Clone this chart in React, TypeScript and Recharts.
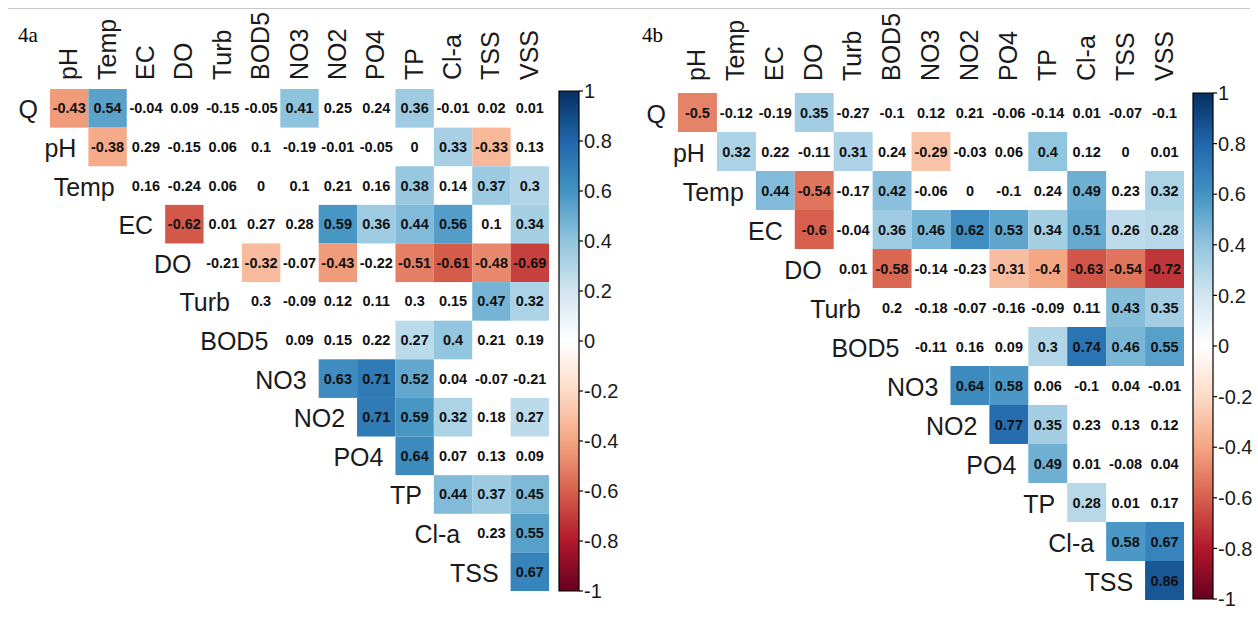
import React from "react";
import {
  ScatterChart,
  Scatter,
  XAxis,
  YAxis,
  BarChart,
  Bar,
} from "recharts";

// variables in the order of the matrix
const ROW_VARS = ["Q", "pH", "Temp", "EC", "DO", "Turb", "BOD5", "NO3", "NO2", "PO4", "TP", "Cl-a", "TSS"];
const COL_VARS = ["pH", "Temp", "EC", "DO", "Turb", "BOD5", "NO3", "NO2", "PO4", "TP", "Cl-a", "TSS", "VSS"];
const BAR_TICKS = [-1, -0.8, -0.6, -0.4, -0.2, 0, 0.2, 0.4, 0.6, 0.8, 1];

// RdBu palette (corrplot), from -1 to 1
const PALETTE = ["#67001F", "#B2182B", "#D6604D", "#F4A582", "#FDDBC7", "#FFFFFF", "#D1E5F0", "#92C5DE", "#4393C3", "#2166AC", "#053061"];

// 4a: each row starts at the column right after its own variable
const A_VALUES = [
  [-0.43, 0.54, -0.04, 0.09, -0.15, -0.05, 0.41, 0.25, 0.24, 0.36, -0.01, 0.02, 0.01],
  [-0.38, 0.29, -0.15, 0.06, 0.1, -0.19, -0.01, -0.05, 0, 0.33, -0.33, 0.13],
  [0.16, -0.24, 0.06, 0, 0.1, 0.21, 0.16, 0.38, 0.14, 0.37, 0.3],
  [-0.62, 0.01, 0.27, 0.28, 0.59, 0.36, 0.44, 0.56, 0.1, 0.34],
  [-0.21, -0.32, -0.07, -0.43, -0.22, -0.51, -0.61, -0.48, -0.69],
  [0.3, -0.09, 0.12, 0.11, 0.3, 0.15, 0.47, 0.32],
  [0.09, 0.15, 0.22, 0.27, 0.4, 0.21, 0.19],
  [0.63, 0.71, 0.52, 0.04, -0.07, -0.21],
  [0.71, 0.59, 0.32, 0.18, 0.27],
  [0.64, 0.07, 0.13, 0.09],
  [0.44, 0.37, 0.45],
  [0.23, 0.55],
  [0.67],
];
// 1 = significant (coloured), 0 = blank
const A_SIG = [
  [1, 1, 0, 0, 0, 0, 1, 0, 0, 1, 0, 0, 0],
  [1, 0, 0, 0, 0, 0, 0, 0, 0, 1, 1, 0],
  [0, 0, 0, 0, 0, 0, 0, 1, 0, 1, 1],
  [1, 0, 0, 0, 1, 1, 1, 1, 0, 1],
  [0, 1, 0, 1, 0, 1, 1, 1, 1],
  [0, 0, 0, 0, 0, 0, 1, 1],
  [0, 0, 0, 1, 1, 0, 0],
  [1, 1, 1, 0, 0, 0],
  [1, 1, 1, 0, 1],
  [1, 0, 0, 0],
  [1, 1, 1],
  [0, 1],
  [1],
];

// 4b
const B_VALUES = [
  [-0.5, -0.12, -0.19, 0.35, -0.27, -0.1, 0.12, 0.21, -0.06, -0.14, 0.01, -0.07, -0.1],
  [0.32, 0.22, -0.11, 0.31, 0.24, -0.29, -0.03, 0.06, 0.4, 0.12, 0, 0.01],
  [0.44, -0.54, -0.17, 0.42, -0.06, 0, -0.1, 0.24, 0.49, 0.23, 0.32],
  [-0.6, -0.04, 0.36, 0.46, 0.62, 0.53, 0.34, 0.51, 0.26, 0.28],
  [0.01, -0.58, -0.14, -0.23, -0.31, -0.4, -0.63, -0.54, -0.72],
  [0.2, -0.18, -0.07, -0.16, -0.09, 0.11, 0.43, 0.35],
  [-0.11, 0.16, 0.09, 0.3, 0.74, 0.46, 0.55],
  [0.64, 0.58, 0.06, -0.1, 0.04, -0.01],
  [0.77, 0.35, 0.23, 0.13, 0.12],
  [0.49, 0.01, -0.08, 0.04],
  [0.28, 0.01, 0.17],
  [0.58, 0.67],
  [0.86],
];
const B_SIG = [
  [1, 0, 0, 1, 0, 0, 0, 0, 0, 0, 0, 0, 0],
  [1, 0, 0, 1, 0, 1, 0, 0, 1, 0, 0, 0],
  [1, 1, 0, 1, 0, 0, 0, 0, 1, 0, 1],
  [1, 0, 1, 1, 1, 1, 1, 1, 1, 1],
  [0, 1, 0, 0, 1, 1, 1, 1, 1],
  [0, 0, 0, 0, 0, 0, 1, 1],
  [0, 0, 0, 1, 1, 1, 1],
  [1, 1, 0, 0, 0, 0],
  [1, 1, 0, 0, 0],
  [1, 0, 0, 0],
  [1, 0, 0],
  [1, 1],
  [1],
];

const N = COL_VARS.length;
const SANS = "'Liberation Sans', Arial, sans-serif";

const hexToRgb = (h: string) => [1, 3, 5].map((i) => parseInt(h.slice(i, i + 2), 16));

const corrColor = (v: number) => {
  const t = ((v + 1) / 2) * (PALETTE.length - 1);
  const i = Math.min(Math.floor(t), PALETTE.length - 2);
  const f = t - i;
  const a = hexToRgb(PALETTE[i]);
  const b = hexToRgb(PALETTE[i + 1]);
  const c = a.map((x, k) => Math.round(x + (b[k] - x) * f));
  return `rgb(${c[0]},${c[1]},${c[2]})`;
};

const toCells = (values: number[][], sig: number[][]) =>
  values.flatMap((row, r) =>
    row.map((v, k) => ({ x: r + k + 0.5, y: r + 0.5, v, sig: sig[r][k] }))
  );

const rowLabelData = ROW_VARS.map((name, r) => ({ x: r, y: r + 0.5, name }));

type PanelProps = {
  left: number;
  width: number;
  plot: { x0: number; x1: number; y0: number; y1: number };
  values: number[][];
  sig: number[][];
  labelGap: number;
};

const CorrPanel: React.FC<PanelProps> = ({ left, width, plot, values, sig, labelGap }) => {
  const height = 623;
  const axisH = 30;
  const cellW = (plot.x1 - plot.x0) / N;
  const cellH = (plot.y1 - plot.y0) / N;
  const cells = toCells(values, sig);

  const renderCell = (p: any) => {
    const { cx, cy, payload } = p;
    return (
      <g>
        {payload.sig ? (
          <rect x={cx - cellW / 2} y={cy - cellH / 2} width={cellW} height={cellH} fill={corrColor(payload.v)} />
        ) : null}
        <text
          x={cx}
          y={cy}
          textAnchor="middle"
          dominantBaseline="central"
          fontFamily={SANS}
          fontWeight="bold"
          fontSize={14.5}
          fill="#111"
        >
          {String(payload.v)}
        </text>
      </g>
    );
  };

  const renderRowLabel = (p: any) => (
    <text
      x={p.cx - 12}
      y={p.cy + 1}
      textAnchor="end"
      dominantBaseline="central"
      fontFamily={SANS}
      fontSize={25}
      fill="#1a1a1a"
    >
      {p.payload.name}
    </text>
  );

  const ColTick = (p: any) => {
    const { x, y, payload } = p;
    return (
      <text
        x={x + 8}
        y={y}
        transform={`rotate(-90 ${x + 8} ${y})`}
        textAnchor="start"
        fontFamily={SANS}
        fontSize={25}
        fill="#1a1a1a"
      >
        {COL_VARS[Math.floor(payload.value)]}
      </text>
    );
  };

  return (
    <div style={{ position: "absolute", left, top: 0 }}>
      <ScatterChart
        width={width}
        height={height}
        margin={{
          left: plot.x0 - left,
          right: left + width - plot.x1,
          top: plot.y0 - axisH,
          bottom: height - plot.y1,
        }}
      >
        <XAxis
          type="number"
          dataKey="x"
          orientation="top"
          domain={[0, N]}
          ticks={COL_VARS.map((_, i) => i + 0.5)}
          height={axisH}
          axisLine={false}
          tickLine={false}
          tickSize={0}
          tickMargin={labelGap}
          interval={0}
          tick={<ColTick />}
        />
        <YAxis type="number" dataKey="y" domain={[0, N]} reversed hide />
        <Scatter data={cells} shape={renderCell} isAnimationActive={false} />
        <Scatter data={rowLabelData} shape={renderRowLabel} isAnimationActive={false} />
      </ScatterChart>
    </div>
  );
};

type BarProps = { id: string; x0: number; y0: number; y1: number };

const ColorBar: React.FC<BarProps> = ({ id, x0, y0, y1 }) => {
  const left = x0 - 10;
  const width = 100;
  const barW = 20;
  const axisW = width - 10 - barW;
  return (
    <div style={{ position: "absolute", left, top: 0 }}>
      <BarChart
        width={width}
        height={623}
        data={[{ k: "bar", r: [-1, 1] }]}
        margin={{ left: 10, right: 0, top: y0, bottom: 623 - y1 }}
        barCategoryGap={0}
      >
        <defs>
          <linearGradient id={id} x1="0" y1="0" x2="0" y2="1">
            {PALETTE.slice()
              .reverse()
              .map((c, i) => (
                <stop key={i} offset={`${i * 10}%`} stopColor={c} />
              ))}
          </linearGradient>
        </defs>
        <XAxis dataKey="k" hide />
        <YAxis
          orientation="right"
          type="number"
          domain={[-1, 1]}
          ticks={BAR_TICKS}
          interval={0}
          width={axisW}
          axisLine={false}
          tickLine={{ stroke: "#000", strokeWidth: 1.2 }}
          tickSize={4}
          tickMargin={1}
          tick={{ fontSize: 20, fontFamily: SANS, fill: "#1a1a1a" }}
          tickFormatter={(v: number) => String(v)}
        />
        <Bar dataKey="r" fill={`url(#${id})`} stroke="#000" strokeWidth={1.2} isAnimationActive={false} />
      </BarChart>
    </div>
  );
};

export default function App() {
  return (
    <div
      style={{
        position: "absolute",
        left: 0,
        top: 0,
        width: 1258,
        height: 623,
        background: "#fff",
        overflow: "hidden",
      }}
    >
      <div style={{ position: "absolute", left: 8, top: 8, width: 1242, borderTop: "1px solid #c8c8c8" }} />
      <CorrPanel
        left={0}
        width={620}
        plot={{ x0: 50, x1: 549, y0: 89, y1: 591 }}
        values={A_VALUES}
        sig={A_SIG}
        labelGap={9}
      />
      <ColorBar id="gradA" x0={559} y0={91} y1={591} />
      <CorrPanel
        left={630}
        width={628}
        plot={{ x0: 678, x1: 1184, y0: 93, y1: 600 }}
        values={B_VALUES}
        sig={B_SIG}
        labelGap={12}
      />
      <ColorBar id="gradB" x0={1193} y0={93} y1={599} />
      <div
        style={{
          position: "absolute",
          left: 18,
          top: 23,
          fontFamily: "'Liberation Serif', 'Times New Roman', serif",
          fontSize: 21,
        }}
      >
        4a
      </div>
      <div
        style={{
          position: "absolute",
          left: 642,
          top: 23,
          fontFamily: "'Liberation Serif', 'Times New Roman', serif",
          fontSize: 21,
        }}
      >
        4b
      </div>
    </div>
  );
}
